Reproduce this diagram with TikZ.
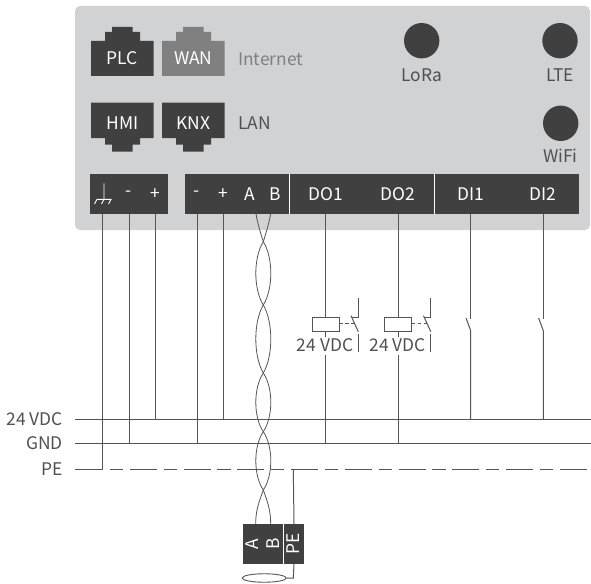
\documentclass[tikz,border=0pt]{standalone}
\usepackage{fontspec}
\usetikzlibrary{shapes.geometric}
\setmainfont{Noto Sans CJK SC}
\definecolor{panel}{HTML}{D1D2D4}
\definecolor{darkb}{HTML}{404040}
\definecolor{wanc}{HTML}{808080}
\definecolor{wire}{HTML}{555557}
\definecolor{lab}{HTML}{505052}
\tikzset{
  txt/.style={font=\fontsize{17.4}{19}\selectfont,inner sep=0pt,text=#1},
  txt/.default=lab,
  wht/.style={txt=white},
  lbl/.style={txt=lab},
  wr/.style={draw=wire,line width=1pt},
  jack/.style={fill=#1,draw=none},
  blockn/.style={fill=darkb,draw=none,inner sep=0pt},
  ant/.style={circle,fill=darkb,minimum size=35.4pt,inner sep=0pt},
  coil/.style={draw=wire,line width=1pt,fill=none,minimum width=27pt,minimum height=14pt,inner sep=0pt},
}
\newcommand{\jackup}[2]{\fill[jack=#2] ({#1},76)--({#1},41)--({#1+14},41)--({#1+14},32)--({#1+21},32)--({#1+21},27)--({#1+41.5},27)--({#1+41.5},32)--({#1+49},32)--({#1+49},41)--({#1+62.5},41)--({#1+62.5},76)--cycle;}
\newcommand{\jackdn}[2]{\fill[jack=#2] ({#1},102.7)--({#1},138)--({#1+14},138)--({#1+14},144.7)--({#1+21},144.7)--({#1+21},151.7)--({#1+41.5},151.7)--({#1+41.5},144.7)--({#1+49},144.7)--({#1+49},138)--({#1+62.5},138)--({#1+62.5},102.7)--cycle;}
\begin{document}
\begin{tikzpicture}[x=1pt,y=-1pt]
\useasboundingbox (0,0) rectangle (591,583);
% housing
\fill[panel,rounded corners=5pt] (75,6) rectangle (590,230);
% jacks
\jackup{91}{darkb}
\jackup{162}{wanc}
\jackdn{91}{darkb}
\jackdn{162}{darkb}
\node[wht] (plc) at (122.3,58) {PLC};
\node[wht] (wan) at (193.3,58) {WAN};
\node[txt=wanc,anchor=west] (inet) at (238,59) {Internet};
\node[wht] (hmi) at (122.3,123) {HMI};
\node[wht] (knx) at (193.3,123) {KNX};
\node[lbl,anchor=west] (lan) at (238,123) {LAN};
% antennas
\node[ant] (lora) at (421.7,40.7) {};
\node[ant] (lte) at (560,40.7) {};
\node[ant] (wifi) at (560.7,123.3) {};
\node[lbl] (loral) at (421.7,75) {LoRa};
\node[lbl] (ltel) at (560,75) {LTE};
\node[lbl] (wifil) at (560.5,156) {WiFi};
% terminal blocks
\node[blockn,minimum width=78pt,minimum height=39.7pt] (tb1) at (129,193.85) {};
\node[blockn,minimum width=394pt,minimum height=39.7pt] (tb2) at (382,193.85) {};
\coordinate (d1t) at (289.3,174); \coordinate (d1b) at (289.3,213.7);
\coordinate (d2t) at (434.3,174); \coordinate (d2b) at (434.3,213.7);
\draw[white,line width=0.9pt] (d1t)--(d1b) (d2t)--(d2b);
% earth symbol
\draw[white,line width=0.9pt] (104,183.3)--(104,199.3) (96.7,199.3)--(111.7,199.3)
  (97,199.3)--(94.5,204) (104,199.3)--(101.5,204) (111,199.3)--(108.5,204);
\node[wht] (tm1) at (128.5,194) {-};
\node[wht] (tp1) at (155,194) {+};
\node[wht] (tm2) at (197,194) {-};
\node[wht] (tp2) at (223.5,194) {+};
\node[wht] (ta) at (250,194) {A};
\node[wht] (tb) at (275.5,194) {B};
\node[wht] (do1) at (325.5,194) {DO1};
\node[wht] (do2) at (398,194) {DO2};
\node[wht] (di1) at (470.5,194) {DI1};
\node[wht] (di2) at (543,194) {DI2};
% bus labels
\node[lbl,anchor=east] (lv) at (63,419) {24 VDC};
\node[lbl,anchor=east] (lg) at (63,443.5) {GND};
\node[lbl,anchor=east] (lp) at (63,469) {PE};
% bus coordinates
\coordinate (v0) at (75,419);   \coordinate (v1) at (591,419);
\coordinate (g0) at (75,443.7); \coordinate (g1) at (591,443.7);
\coordinate (p0) at (75,469);   \coordinate (pe) at (102.7,469);
\coordinate (pd) at (110,469);  \coordinate (p1) at (591,469);
\draw[wr] (v0)--(v1);
\draw[wr] (g0)--(g1);
\draw[wr] (p0)--(pe);
\draw[wr,dash pattern=on 13.3pt off 6.7pt on 27pt off 6.7pt] (pd)--(p1);
% power wires
\draw[wr] (102.7,213.7)--(pe);
\draw[wr] (129,213.7)--(129,443.7);
\draw[wr] (155,213.7)--(155,419);
\draw[wr] (197.7,213.7)--(197.7,443.7);
\draw[wr] (223.7,213.7)--(223.7,419);
% relays
\node[coil] (k1) at (325.5,324.7) {};
\node[coil] (k2) at (398,324.7) {};
\node[lbl] (k1l) at (325,345) {24 VDC};
\node[lbl] (k2l) at (397.5,345) {24 VDC};
\draw[wr] (325.5,213.7)--(k1.north);
\draw[wr] (398,213.7)--(k2.north);
\draw[wr] (k1.south)--(325.5,337);
\draw[wr] (k2.south)--(398,337);
\draw[wr] (325.5,355)--(325.5,443.7);
\draw[wr] (398,355)--(398,443.7);
% relay contacts
\foreach \dx in {0,72.5}{
  \draw[wr] (358.3+\dx,298)--(358.3+\dx,317.3)--(351.7+\dx,317.3);
  \draw[wr] (351+\dx,315.7)--(358.3+\dx,331.7);
  \draw[wr] (358.3+\dx,334)--(358.3+\dx,351.7);
  \draw[wr,dash pattern=on 3.5pt off 2.5pt] (339+\dx,323.7)--(354+\dx,323.7);
}
% digital inputs
\foreach \x in {470.7,543.3}{
  \draw[wr] (\x,213.7)--(\x,319);
  \draw[wr] (\x-4.7,318)--(\x,330.7)--(\x,419);
}
% cable block
\node[blockn,minimum width=40pt,minimum height=39.7pt] (ca) at (263,543.85) {};
\node[blockn,minimum width=20pt,minimum height=39.7pt] (cb) at (294,543.85) {};
\node[wht,rotate=90] (cal) at (252,544) {A};
\node[wht,rotate=90] (cbl) at (273,544) {B};
\node[wht,rotate=90] (cpl) at (293.5,544) {PE};
% twisted pair
\draw[wr,line width=0.8pt] (256,213.7) .. controls (257.5,224) and (261,234) .. (263.3,241.7)
  .. controls (273.3,257.7) and (273.3,289) .. (263.3,305)
  .. controls (253.3,322) and (253.3,356) .. (263.3,373)
  .. controls (273.3,387.7) and (273.3,417) .. (263.3,431.7)
  .. controls (253.3,446.3) and (253.3,475.4) .. (263.3,490)
  .. controls (267.5,502) and (270.7,510) .. (270.7,524);
\draw[wr,line width=0.8pt] (270.6,213.7) .. controls (269,224) and (265.6,234) .. (263.3,241.7)
  .. controls (253.3,257.7) and (253.3,289) .. (263.3,305)
  .. controls (273.3,322) and (273.3,356) .. (263.3,373)
  .. controls (253.3,387.7) and (253.3,417) .. (263.3,431.7)
  .. controls (273.3,446.3) and (273.3,475.4) .. (263.3,490)
  .. controls (259,502) and (255.7,510) .. (255.7,524);
% shield
\coordinate (pt) at (293.3,469);
\draw[wr] (pt)--(cb.north);
\node[draw=wire,line width=0.9pt,fill=white,ellipse,minimum width=44pt,minimum height=8.5pt,inner sep=0pt] (sh) at (264.2,578) {};
\draw[wr] (cb.south)--(293.3,578)--(sh.east);
\end{tikzpicture}
\end{document}
